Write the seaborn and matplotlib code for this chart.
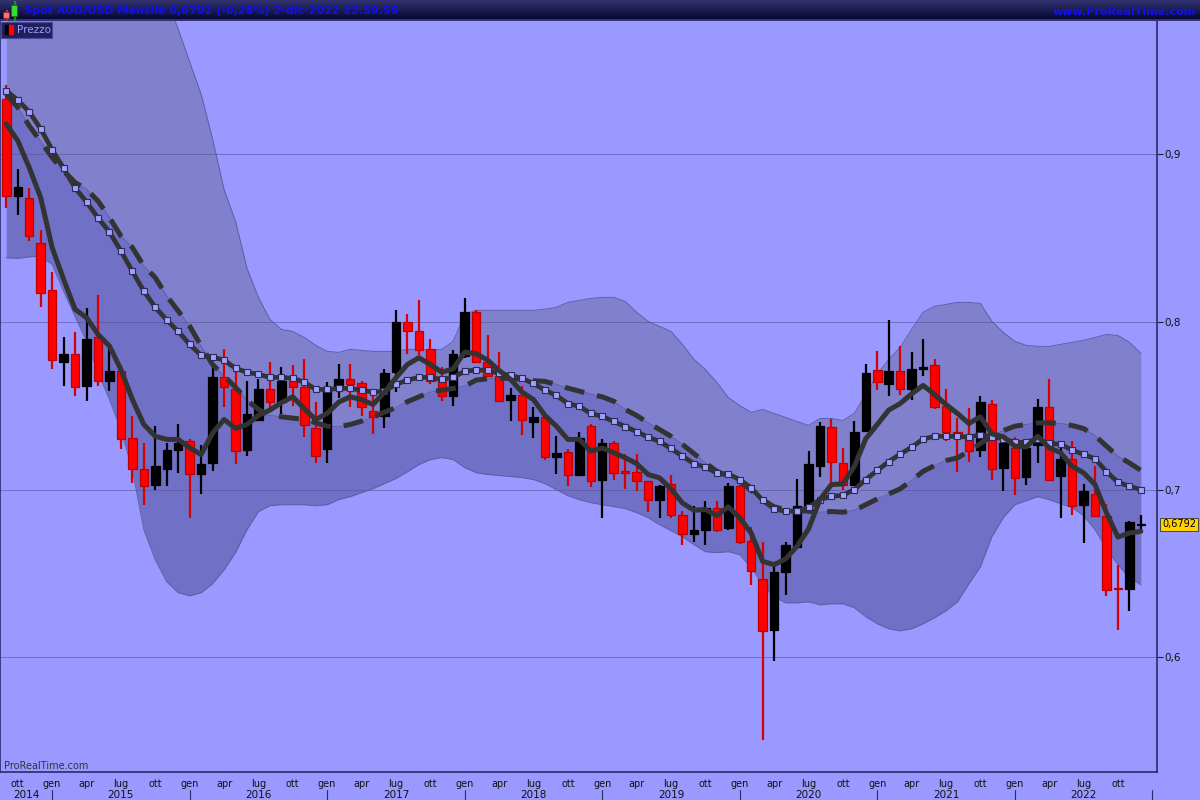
import numpy as np
import matplotlib
matplotlib.use("Agg")
import matplotlib.pyplot as plt
import matplotlib.transforms as mtransforms
from matplotlib.patches import Rectangle
import seaborn as sns

# Spot AUD/USD, monthly candles from Sep 2014 to Dec 2022
opens = [0.933, 0.875, 0.874, 0.847, 0.819, 0.776, 0.781, 0.762, 0.791, 0.765,
         0.771, 0.731, 0.712, 0.703, 0.7125, 0.7235, 0.729, 0.7095, 0.716, 0.767,
         0.760, 0.7236, 0.7415, 0.760, 0.752, 0.765, 0.761, 0.737, 0.724, 0.7606,
         0.7657, 0.7637, 0.747, 0.7438, 0.770, 0.800, 0.7945, 0.784, 0.765, 0.756,
         0.7796, 0.806, 0.776, 0.768, 0.7537, 0.7565, 0.740, 0.743, 0.7196, 0.7225,
         0.7084, 0.738, 0.7056, 0.7275, 0.711, 0.7104, 0.7054, 0.694, 0.7034, 0.6847,
         0.6736, 0.6757, 0.689, 0.6772, 0.7024, 0.6696, 0.6469, 0.616, 0.6507, 0.6658,
         0.690, 0.714, 0.7375, 0.716, 0.703, 0.7348, 0.7713, 0.7631, 0.7707, 0.760,
         0.7716, 0.774, 0.750, 0.7345, 0.730, 0.7236, 0.7512, 0.7128, 0.725, 0.7074,
         0.7265, 0.749, 0.708, 0.718, 0.6906, 0.6976, 0.6845, 0.6415, 0.641, 0.6788]
highs = [0.941, 0.891, 0.880, 0.855, 0.830, 0.791, 0.794, 0.808, 0.816, 0.784,
         0.774, 0.744, 0.728, 0.738, 0.728, 0.739, 0.730, 0.7265, 0.773, 0.784,
         0.771, 0.765, 0.766, 0.776, 0.773, 0.774, 0.778, 0.752, 0.764, 0.7746,
         0.775, 0.765, 0.756, 0.772, 0.807, 0.8045, 0.813, 0.790, 0.773, 0.783,
         0.814, 0.807, 0.792, 0.782, 0.7607, 0.762, 0.749, 0.744, 0.732, 0.724,
         0.7345, 0.739, 0.730, 0.729, 0.721, 0.721, 0.7054, 0.703, 0.7084, 0.687,
         0.690, 0.693, 0.693, 0.704, 0.703, 0.6777, 0.6688, 0.654, 0.669, 0.7064,
         0.723, 0.7405, 0.742, 0.7245, 0.741, 0.7746, 0.7826, 0.801, 0.7856, 0.782,
         0.7896, 0.7776, 0.760, 0.7428, 0.7484, 0.756, 0.7537, 0.730, 0.7315, 0.728,
         0.754, 0.766, 0.725, 0.729, 0.7036, 0.714, 0.6916, 0.655, 0.681, 0.685]
lows = [0.868, 0.864, 0.848, 0.809, 0.772, 0.762, 0.756, 0.753, 0.762, 0.759,
        0.724, 0.704, 0.691, 0.700, 0.702, 0.710, 0.683, 0.6975, 0.711, 0.749,
        0.715, 0.720, 0.741, 0.748, 0.745, 0.750, 0.7315, 0.716, 0.716, 0.7548,
        0.749, 0.744, 0.733, 0.737, 0.758, 0.781, 0.780, 0.763, 0.753, 0.750,
        0.7787, 0.7757, 0.767, 0.752, 0.741, 0.7325, 0.731, 0.7176, 0.709, 0.702,
        0.708, 0.7016, 0.683, 0.7057, 0.7005, 0.699, 0.6866, 0.683, 0.683, 0.667,
        0.669, 0.667, 0.675, 0.6758, 0.6678, 0.6433, 0.5507, 0.598, 0.637, 0.665,
        0.688, 0.7076, 0.704, 0.700, 0.7024, 0.7343, 0.7594, 0.756, 0.7563, 0.7533,
        0.7677, 0.7478, 0.729, 0.7104, 0.7166, 0.7194, 0.706, 0.699, 0.6967, 0.703,
        0.716, 0.705, 0.683, 0.685, 0.668, 0.684, 0.6363, 0.6165, 0.6274, 0.676]
closes = [0.875, 0.8805, 0.851, 0.817, 0.777, 0.781, 0.761, 0.790, 0.765, 0.771,
          0.730, 0.712, 0.702, 0.714, 0.7235, 0.7275, 0.709, 0.7155, 0.767, 0.761,
          0.723, 0.7448, 0.760, 0.752, 0.765, 0.761, 0.7385, 0.720, 0.760, 0.7657,
          0.763, 0.749, 0.7434, 0.7693, 0.800, 0.7945, 0.7833, 0.765, 0.756, 0.781,
          0.806, 0.7763, 0.768, 0.7527, 0.7565, 0.7412, 0.743, 0.7195, 0.722, 0.7084,
          0.731, 0.705, 0.7275, 0.710, 0.710, 0.7054, 0.694, 0.7024, 0.6848, 0.6736,
          0.6757, 0.689, 0.676, 0.7024, 0.6686, 0.6512, 0.6154, 0.6507, 0.6672, 0.690,
          0.715, 0.7378, 0.7164, 0.703, 0.7345, 0.7697, 0.7643, 0.771, 0.7597, 0.7716,
          0.7733, 0.7494, 0.7345, 0.731, 0.7229, 0.7524, 0.712, 0.7275, 0.707, 0.725,
          0.749, 0.706, 0.718, 0.690, 0.6994, 0.6841, 0.6403, 0.641, 0.6805, 0.6792]

# indicators
fast_ma = [0.918, 0.908, 0.892, 0.8741, 0.8443, 0.8254, 0.8075, 0.8025, 0.7925, 0.7856,
           0.7716, 0.7537, 0.7388, 0.7318, 0.7299, 0.7299, 0.7249, 0.7209, 0.7337, 0.7418,
           0.7365, 0.7388, 0.7442, 0.7474, 0.7518, 0.7553, 0.7482, 0.7418, 0.7454, 0.7521,
           0.7553, 0.7537, 0.7507, 0.7581, 0.7667, 0.7746, 0.7786, 0.7746, 0.770, 0.772,
           0.782, 0.781, 0.7772, 0.771, 0.7657, 0.7581, 0.7537, 0.7442, 0.7378, 0.7299,
           0.7299, 0.7229, 0.7247, 0.722, 0.719, 0.7155, 0.709, 0.707, 0.7004, 0.692,
           0.6877, 0.6881, 0.6845, 0.6897, 0.6831, 0.6741, 0.6572, 0.6552, 0.6586, 0.6662,
           0.6765, 0.694, 0.703, 0.7034, 0.7139, 0.7303, 0.7388, 0.7474, 0.7513, 0.7571,
           0.7621, 0.7567, 0.7507, 0.7454, 0.7394, 0.7434, 0.7332, 0.7315, 0.7259, 0.7255,
           0.7318, 0.7249, 0.722, 0.7139, 0.710, 0.703, 0.6861, 0.6717, 0.6741, 0.6751]
mid_band = [0.9378, 0.9322, 0.9253, 0.9151, 0.9026, 0.8916, 0.8799, 0.8715, 0.862, 0.8536,
            0.8423, 0.8301, 0.8184, 0.8087, 0.8011, 0.7943, 0.7866, 0.780, 0.779, 0.7772,
            0.7723, 0.770, 0.7687, 0.7669, 0.7669, 0.7663, 0.7641, 0.7597, 0.7597, 0.7603,
            0.7603, 0.7593, 0.7581, 0.7587, 0.7627, 0.7653, 0.7669, 0.7669, 0.7657, 0.7669,
            0.7706, 0.7712, 0.7712, 0.7693, 0.7681, 0.7663, 0.7633, 0.7593, 0.7561, 0.7513,
            0.7496, 0.7454, 0.7436, 0.7406, 0.7376, 0.7346, 0.7312, 0.7287, 0.7245, 0.7199,
            0.7155, 0.7133, 0.710, 0.7092, 0.706, 0.701, 0.6936, 0.6885, 0.687, 0.6873,
            0.6894, 0.694, 0.696, 0.6966, 0.700, 0.706, 0.7114, 0.7167, 0.7211, 0.7253,
            0.7301, 0.7318, 0.7318, 0.7318, 0.7312, 0.7328, 0.7315, 0.7304, 0.7282, 0.7282,
            0.7303, 0.7275, 0.7271, 0.7235, 0.7211, 0.7183, 0.7107, 0.7044, 0.702, 0.700]
slow_ma = [0.936, 0.9279, 0.9169, 0.9076, 0.898, 0.890, 0.8831, 0.8791, 0.8721, 0.8622,
           0.8512, 0.8443, 0.8333, 0.8264, 0.8154, 0.8065, 0.7975, 0.7856, 0.7746, 0.7677,
           0.761, 0.7533, 0.7478, 0.7442, 0.7434, 0.7426, 0.7418, 0.7398, 0.7378, 0.7374,
           0.7388, 0.7408, 0.7432, 0.7462, 0.7488, 0.7524, 0.7553, 0.7581, 0.7593, 0.7603,
           0.7617, 0.7653, 0.7661, 0.7665, 0.7663, 0.7657, 0.7649, 0.7645, 0.7627, 0.7605,
           0.7587, 0.7569, 0.7553, 0.7527, 0.7478, 0.7442, 0.7398, 0.7358, 0.7318, 0.7269,
           0.7215, 0.7159, 0.7109, 0.7079, 0.705, 0.6996, 0.694, 0.6897, 0.6881, 0.6876,
           0.6871, 0.6865, 0.6869, 0.6865, 0.6876, 0.691, 0.6944, 0.6974, 0.7004, 0.7054,
           0.7109, 0.7143, 0.7173, 0.7189, 0.7229, 0.7275, 0.7318, 0.7352, 0.7378, 0.7388,
           0.7398, 0.7398, 0.7394, 0.7382, 0.7364, 0.7322, 0.7259, 0.7199, 0.7159, 0.7115]
# first values of the upper band lie above the visible frame (estimated)
upper_band = [1.04, 1.035, 1.03, 1.025, 1.02, 1.015, 1.01, 1.01, 1.01, 1.01,
              1.005, 1.0, 1.0, 0.998, 0.992, 0.9746, 0.955, 0.9358, 0.909, 0.879,
              0.860, 0.832, 0.8146, 0.8015, 0.7955, 0.7943, 0.7907, 0.786, 0.7824, 0.7818,
              0.7836, 0.783, 0.7824, 0.7824, 0.7824, 0.7836, 0.7836, 0.783, 0.7836, 0.7884,
              0.8045, 0.8069, 0.8069, 0.8069, 0.8069, 0.8069, 0.8069, 0.8075, 0.8087, 0.8116,
              0.8128, 0.814, 0.8146, 0.8146, 0.8122, 0.8057, 0.8003, 0.7973, 0.7943, 0.7866,
              0.7776, 0.7716, 0.7639, 0.7549, 0.7501, 0.746, 0.7478, 0.7454, 0.743, 0.7406,
              0.7382, 0.7424, 0.7424, 0.7412, 0.7454, 0.7567, 0.7687, 0.7776, 0.7848, 0.7955,
              0.8057, 0.8093, 0.8104, 0.8116, 0.8116, 0.811, 0.8003, 0.7937, 0.7884, 0.786,
              0.7854, 0.7854, 0.7866, 0.7878, 0.789, 0.7907, 0.7925, 0.7919, 0.7878, 0.7812]
lower_band = [0.8382, 0.8379, 0.8388, 0.8391, 0.8343, 0.8182, 0.8033, 0.7884, 0.7699, 0.7537,
              0.7358, 0.7119, 0.6761, 0.6582, 0.6451, 0.6385, 0.6367, 0.6385, 0.6439, 0.6522,
              0.6624, 0.6761, 0.6869, 0.6904, 0.691, 0.691, 0.691, 0.6904, 0.691, 0.694,
              0.6958, 0.6982, 0.7006, 0.7036, 0.7066, 0.7107, 0.7149, 0.7179, 0.7191, 0.7179,
              0.7131, 0.7101, 0.709, 0.7084, 0.7078, 0.7072, 0.706, 0.7036, 0.700, 0.6964,
              0.694, 0.6922, 0.691, 0.6899, 0.6887, 0.6863, 0.6833, 0.6791, 0.6755, 0.6719,
              0.6672, 0.663, 0.6624, 0.663, 0.6612, 0.6534, 0.6433, 0.6361, 0.6325, 0.6325,
              0.6331, 0.6313, 0.6319, 0.6319, 0.6296, 0.6242, 0.620, 0.617, 0.6158, 0.617,
              0.620, 0.6236, 0.6278, 0.6331, 0.6439, 0.654, 0.6719, 0.6833, 0.691, 0.6934,
              0.6958, 0.694, 0.6916, 0.6893, 0.6845, 0.6761, 0.6648, 0.6552, 0.6475, 0.6433]

month_labels = ["ott", "gen", "apr", "lug"]
year_labels = ["2014", "2015", "2016", "2017", "2018", "2019", "2020", "2021", "2022"]
y_ticks = [0.6, 0.7, 0.8, 0.9]
last_price = 0.6792

BG = "#9999FF"
BAND_HI = "#8080CC"
BAND_LO = "#7070C6"
LINE = "#333333"
NAVY = "#2A2A70"

sns.set_style("white")
plt.rcParams["font.family"] = ["DejaVu Sans"]

fig = plt.figure(figsize=(12, 8), dpi=100)
fig.patch.set_facecolor(BG)
ax = fig.add_axes([0, 28 / 800, 1157 / 1200, 751 / 800])
ax.set_facecolor(BG)

idx = np.arange(len(closes))
o, h, l, c = map(np.array, (opens, highs, lows, closes))

# bands
ax.fill_between(idx, upper_band, slow_ma, color=BAND_HI, lw=0, zorder=1)
ax.fill_between(idx, slow_ma, lower_band, color=BAND_LO, lw=0, zorder=1)
for band in (upper_band, lower_band, slow_ma):
    sns.lineplot(x=idx, y=band, ax=ax, color="#5E5EA8", linewidth=0.7, zorder=1.2)

# candles
up = c >= o
body_col = np.where(up, "#000000", "#FF0000")
edge_col = np.where(up, "#000000", "#C00000")
wick_col = np.where(up, "#000000", "#D80000")
ax.vlines(idx, l, h, colors=wick_col, linewidth=1.6, zorder=3)
ax.bar(idx, c - o, bottom=o, width=0.74, color=body_col, edgecolor=edge_col,
       linewidth=0.9, zorder=4)

# moving averages
sns.lineplot(x=idx, y=slow_ma, ax=ax, color=LINE, linewidth=3.6,
             linestyle=(0, (4, 2.6)), zorder=5)
sns.lineplot(x=idx, y=mid_band, ax=ax, color=LINE, linewidth=3.4, marker="s",
             markersize=4.3, markerfacecolor="#A0A0FF", markeredgecolor="#2B2B55",
             markeredgewidth=0.8, zorder=6)
sns.lineplot(x=idx, y=fast_ma, ax=ax, color=LINE, linewidth=3.6, zorder=7,
             solid_joinstyle="round")

ax.set_xlim(-0.55, 100.41)
ax.set_ylim(0.5316, 0.9794)
ax.set_xlabel("")
ax.set_ylabel("")

# grid and axes
ax.set_axisbelow("line")
ax.yaxis.grid(True, color="#55559A", alpha=0.6, linewidth=0.7)
ax.xaxis.grid(False)
ax.yaxis.tick_right()
ax.set_yticks(y_ticks)
ax.set_yticklabels([f"{v:.1f}".replace(".", ",") for v in y_ticks])
ax.tick_params(axis="y", direction="out", length=4, width=0.8, colors="#222244",
               labelcolor="#111111", labelsize=7.5, pad=1.5)

tick_pos = np.arange(1, 101, 3)
tick_lab = [month_labels[k % 4] for k in range(len(tick_pos))]
tick_lab[-1] = ""
ax.set_xticks(tick_pos)
ax.set_xticklabels(tick_lab)
ax.tick_params(axis="x", direction="out", length=3, width=0.8, colors="#222244",
               labelcolor="#111111", labelsize=7, pad=2)

for side in ("left", "bottom", "right"):
    ax.spines[side].set_color(NAVY)
    ax.spines[side].set_linewidth(1.2)
ax.spines["top"].set_visible(False)

trans = mtransforms.blended_transform_factory(ax.transData, ax.transAxes)
jan_pos = np.arange(4, 101, 12)
for x in jan_pos:
    ax.plot([x, x], [-0.024, -0.04], transform=trans, color=NAVY, lw=0.8,
            clip_on=False)
year_edges = np.concatenate([[ax.get_xlim()[0]], jan_pos])
for k, yl in enumerate(year_labels):
    xc = (year_edges[k] + year_edges[k + 1]) / 2
    ax.text(xc, -0.031, yl, transform=trans, ha="center", va="center",
            fontsize=7.5, color="#111111")

# last price tag
ytrans = mtransforms.blended_transform_factory(ax.transAxes, ax.transData)
ax.text(1.0045, last_price, f"{last_price:.4f}".replace(".", ","), transform=ytrans,
        ha="left", va="center", fontsize=7, color="#000000",
        bbox=dict(boxstyle="square,pad=0.2", facecolor="#FFD200", edgecolor="#333333",
                  linewidth=0.6))

# title bar
bar = fig.add_axes([0, 1 - 21 / 800, 1, 21 / 800])
grad = np.linspace(0, 1, 50).reshape(-1, 1)
top = np.array([0.20, 0.20, 0.45])
bottom = np.array([0.01, 0.01, 0.16])
img = top + (bottom - top) * grad[:, :, None]
bar.imshow(img, aspect="auto", extent=[0, 1, 0, 1])
bar.set_xlim(0, 1)
bar.set_ylim(0, 1)
bar.axis("off")
bar.axhline(0.03, color="#3C3C8C", lw=1.2)
bar.text(24 / 1200, 0.5, "Spot AUD/USD Mensile 0,6792 (-0,28%) 2-dic-2022 22.59.59",
         color="#1010F0", fontsize=8, fontweight="bold", va="center", ha="left")
bar.text(1196 / 1200, 0.45, "www.ProRealTime.com", color="#1010F0", fontsize=8,
         fontweight="bold", va="center", ha="right")

# header icon
fig.add_artist(Rectangle((6 / 1200, 1 - 20 / 800), 1 / 1200, 10 / 800,
                         transform=fig.transFigure, color="#AA3333", zorder=10))
fig.add_artist(Rectangle((3 / 1200, 1 - 18 / 800), 6 / 1200, 6 / 800,
                         transform=fig.transFigure, facecolor="#FF7070",
                         edgecolor="#882222", lw=0.5, zorder=11))
fig.add_artist(Rectangle((13.5 / 1200, 1 - 20 / 800), 1 / 1200, 19 / 800,
                         transform=fig.transFigure, color="#228822", zorder=10))
fig.add_artist(Rectangle((11 / 1200, 1 - 16 / 800), 6 / 1200, 11 / 800,
                         transform=fig.transFigure, facecolor="#33DD33",
                         edgecolor="#116611", lw=0.5, zorder=11))

# legend box
fig.add_artist(Rectangle((1 / 1200, 1 - 38 / 800), 51 / 1200, 16 / 800,
                         transform=fig.transFigure, facecolor="#20205A",
                         edgecolor="#4848A0", lw=0.8, zorder=10))
fig.add_artist(Rectangle((5 / 1200, 1 - 34 / 800), 4 / 1200, 9 / 800,
                         transform=fig.transFigure, color="#000000", zorder=11))
fig.add_artist(Rectangle((9 / 1200, 1 - 34 / 800), 4 / 1200, 9 / 800,
                         transform=fig.transFigure, color="#FF0000", zorder=11))
fig.text(17 / 1200, 1 - 30 / 800, "Prezzo", color="#9C9CFF", fontsize=7.5,
         va="center", ha="left", zorder=12)

fig.text(4 / 1200, 1 - 766 / 800, "ProRealTime.com", color="#333333", fontsize=7,
         va="center", ha="left")

fig.savefig("out.png", dpi=100, facecolor=BG)
